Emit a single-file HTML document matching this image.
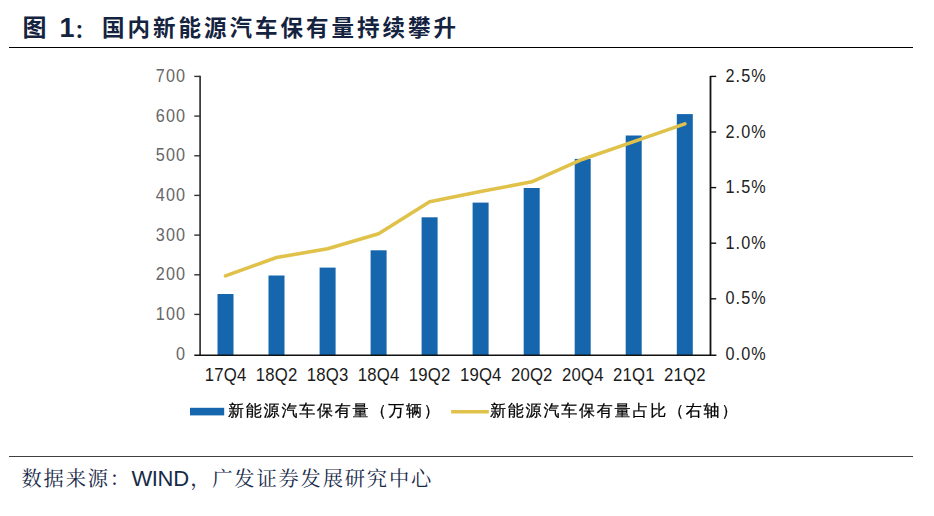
<!DOCTYPE html>
<html>
<head>
<meta charset="utf-8">
<style>
html,body{margin:0;padding:0;background:#fff;}
body{width:934px;height:516px;position:relative;overflow:hidden;}
.t{position:absolute;white-space:nowrap;line-height:1;}
.title{color:#142340;font-family:"Liberation Sans","Noto Sans CJK SC",sans-serif;font-weight:bold;font-size:22.5px;}
.src{color:#172a4a;font-family:"Liberation Sans","Noto Serif CJK SC",serif;font-size:20.3px;}
.hr{position:absolute;left:9px;width:904px;}
</style>
</head>
<body>
<div class="t title" style="left:22.5px;top:16.3px;font-size:24px;">图</div>
<div class="t title" style="left:59.5px;top:14.5px;font-size:27px;">1</div>
<div class="t title" style="left:74.5px;top:21.5px;font-size:19.5px;">：</div>
<div class="t title" style="left:102px;top:17.8px;letter-spacing:3px;">国内新能源汽车保有量持续攀升</div>
<div class="hr" style="top:46.5px;height:1.5px;background:#000;"></div>

<svg style="position:absolute;left:0;top:0" width="934" height="516" viewBox="0 0 934 516">
  <g fill="#1666ad">
    <rect x="217.5" y="294" width="16" height="61.2"/>
    <rect x="268.5" y="275.5" width="16" height="79.7"/>
    <rect x="319.6" y="267.6" width="16" height="87.6"/>
    <rect x="370.6" y="250.3" width="16" height="104.9"/>
    <rect x="421.6" y="217.3" width="16" height="137.9"/>
    <rect x="472.6" y="202.6" width="16" height="152.6"/>
    <rect x="523.7" y="188" width="16" height="167.2"/>
    <rect x="574.7" y="158.9" width="16" height="196.3"/>
    <rect x="625.7" y="135.5" width="16" height="219.7"/>
    <rect x="676.8" y="114.1" width="16" height="241.1"/>
  </g>
  <polyline fill="none" stroke="#e0c24a" stroke-width="3.6" stroke-linejoin="round" stroke-linecap="round"
    points="225.5,275.9 276.5,257.5 327.6,248.8 378.6,233.8 429.6,201.8 480.6,191.6 531.7,181.8 582.7,159.2 633.7,141.6 684.8,123.9"/>
  <g stroke="#333" stroke-width="1.4">
    <line x1="200.1" y1="75.8" x2="200.1" y2="355.2" stroke-width="1.7"/>
    <line x1="194.3" y1="314.4" x2="200.1" y2="314.4"/>
    <line x1="194.3" y1="274.8" x2="200.1" y2="274.8"/>
    <line x1="194.3" y1="235.1" x2="200.1" y2="235.1"/>
    <line x1="194.3" y1="195.4" x2="200.1" y2="195.4"/>
    <line x1="194.3" y1="155.8" x2="200.1" y2="155.8"/>
    <line x1="194.3" y1="116.1" x2="200.1" y2="116.1"/>
    <line x1="194.3" y1="76.4" x2="200.1" y2="76.4"/>
  </g>
  <g stroke="#111" stroke-width="1.4">
    <line x1="710.5" y1="75.9" x2="710.5" y2="355.2" stroke-width="1.8"/>
    <line x1="710.4" y1="298.8" x2="716.2" y2="298.8"/>
    <line x1="710.4" y1="243.2" x2="716.2" y2="243.2"/>
    <line x1="710.4" y1="187.6" x2="716.2" y2="187.6"/>
    <line x1="710.4" y1="132.0" x2="716.2" y2="132.0"/>
    <line x1="710.4" y1="76.4" x2="716.2" y2="76.4"/>
    <line x1="194.3" y1="355.2" x2="716.4" y2="355.2" stroke-width="1.5"/>
  </g>
  <g style="font-family:'Liberation Sans',sans-serif" font-size="18" fill="#666">
    <text transform="translate(186.08,359.60) scale(0.9,1)" x="0" y="0" letter-spacing="1.2" text-anchor="end">0</text>
    <text transform="translate(186.08,319.93) scale(0.9,1)" x="0" y="0" letter-spacing="1.2" text-anchor="end">100</text>
    <text transform="translate(186.08,280.26) scale(0.9,1)" x="0" y="0" letter-spacing="1.2" text-anchor="end">200</text>
    <text transform="translate(186.08,240.59) scale(0.9,1)" x="0" y="0" letter-spacing="1.2" text-anchor="end">300</text>
    <text transform="translate(186.08,200.92) scale(0.9,1)" x="0" y="0" letter-spacing="1.2" text-anchor="end">400</text>
    <text transform="translate(186.08,161.25) scale(0.9,1)" x="0" y="0" letter-spacing="1.2" text-anchor="end">500</text>
    <text transform="translate(186.08,121.58) scale(0.9,1)" x="0" y="0" letter-spacing="1.2" text-anchor="end">600</text>
    <text transform="translate(186.08,81.91) scale(0.9,1)" x="0" y="0" letter-spacing="1.2" text-anchor="end">700</text>
  </g>
  <g style="font-family:'Liberation Sans',sans-serif" font-size="18" fill="#222">
    <text transform="translate(725.50,359.90) scale(0.9,1)" x="0" y="0" letter-spacing="1.2" text-anchor="start">0.0%</text>
    <text transform="translate(725.50,304.30) scale(0.9,1)" x="0" y="0" letter-spacing="1.2" text-anchor="start">0.5%</text>
    <text transform="translate(725.50,248.70) scale(0.9,1)" x="0" y="0" letter-spacing="1.2" text-anchor="start">1.0%</text>
    <text transform="translate(725.50,193.10) scale(0.9,1)" x="0" y="0" letter-spacing="1.2" text-anchor="start">1.5%</text>
    <text transform="translate(725.50,137.50) scale(0.9,1)" x="0" y="0" letter-spacing="1.2" text-anchor="start">2.0%</text>
    <text transform="translate(725.50,81.90) scale(0.9,1)" x="0" y="0" letter-spacing="1.2" text-anchor="start">2.5%</text>
  </g>
  <g style="font-family:'Liberation Sans',sans-serif" font-size="18" fill="#1a1a1a">
    <text transform="translate(225.59,381.00) scale(0.93,1)" x="0" y="0" letter-spacing="0.2" text-anchor="middle">17Q4</text>
    <text transform="translate(276.62,381.00) scale(0.93,1)" x="0" y="0" letter-spacing="0.2" text-anchor="middle">18Q2</text>
    <text transform="translate(327.65,381.00) scale(0.93,1)" x="0" y="0" letter-spacing="0.2" text-anchor="middle">18Q3</text>
    <text transform="translate(378.68,381.00) scale(0.93,1)" x="0" y="0" letter-spacing="0.2" text-anchor="middle">18Q4</text>
    <text transform="translate(429.71,381.00) scale(0.93,1)" x="0" y="0" letter-spacing="0.2" text-anchor="middle">19Q2</text>
    <text transform="translate(480.74,381.00) scale(0.93,1)" x="0" y="0" letter-spacing="0.2" text-anchor="middle">19Q4</text>
    <text transform="translate(531.77,381.00) scale(0.93,1)" x="0" y="0" letter-spacing="0.2" text-anchor="middle">20Q2</text>
    <text transform="translate(582.80,381.00) scale(0.93,1)" x="0" y="0" letter-spacing="0.2" text-anchor="middle">20Q4</text>
    <text transform="translate(633.83,381.00) scale(0.93,1)" x="0" y="0" letter-spacing="0.2" text-anchor="middle">21Q1</text>
    <text transform="translate(684.86,381.00) scale(0.93,1)" x="0" y="0" letter-spacing="0.2" text-anchor="middle">21Q2</text>
  </g>
  <rect x="190" y="407.8" width="34.2" height="7.6" fill="#1666ad"/>
  <line x1="451.2" y1="411.8" x2="488.8" y2="411.8" stroke="#e0c24a" stroke-width="3.4"/>
  <g style="font-family:'WenQuanYi Zen Hei',sans-serif" font-size="16" fill="#000" stroke="#000" stroke-width="0.25" letter-spacing="1.8">
    <text x="228" y="415.7">新能源汽车保有量（万辆）</text>
    <text x="490" y="415.7">新能源汽车保有量占比（右轴）</text>
  </g>
</svg>

<div class="hr" style="top:455.6px;height:1.2px;background:#404040;"></div>
<div class="t src" style="left:21.5px;top:467.5px;letter-spacing:1.8px;">数据来源：<span style="letter-spacing:-0.35px;margin-left:-0.5px;margin-right:1.5px;font-size:22px">WIND</span>，广发证券发展研究中心</div>
</body>
</html>
